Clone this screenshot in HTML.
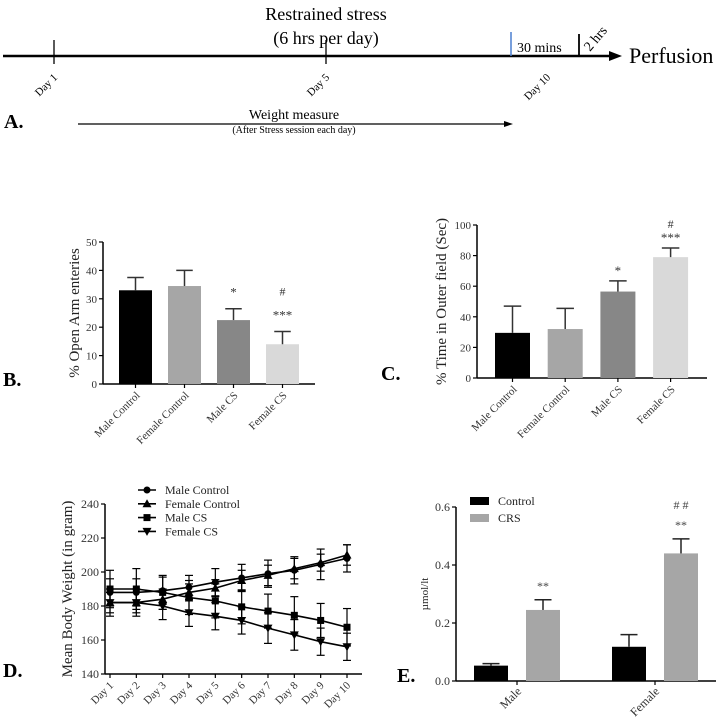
<!DOCTYPE html>
<html><head><meta charset="utf-8"><style>
html,body{margin:0;padding:0;background:#fff;}
svg{display:block;font-family:"Liberation Serif",serif;}
</style></head><body>
<svg id="fig" width="728" height="724" viewBox="0 0 728 724" xmlns="http://www.w3.org/2000/svg">
<g>
  <line x1="3" y1="56" x2="612" y2="56" stroke="#000" stroke-width="2.5"/>
  <polygon points="622,56 609,51 609,61" fill="#000"/>
  <line x1="54" y1="40" x2="54" y2="64" stroke="#000" stroke-width="1.3"/>
  <line x1="326" y1="40" x2="326" y2="64" stroke="#000" stroke-width="1.3"/>
  <line x1="511" y1="32" x2="511" y2="56" stroke="#4a7fd0" stroke-width="1.5"/>
  <line x1="579" y1="34" x2="579" y2="56" stroke="#000" stroke-width="1.8"/>
  <text x="326" y="20" font-size="18" text-anchor="middle">Restrained stress</text>
  <text x="326" y="44" font-size="18" text-anchor="middle">(6 hrs per day)</text>
  <text x="517" y="52" font-size="14">30 mins</text>
  <text transform="translate(590,52) rotate(-50)" font-size="14">2 hrs</text>
  <text x="629" y="63" font-size="22">Perfusion</text>
  <text transform="translate(58,78) rotate(-45)" font-size="11" text-anchor="end">Day 1</text>
  <text transform="translate(330,78) rotate(-45)" font-size="11" text-anchor="end">Day 5</text>
  <text transform="translate(551,78) rotate(-45)" font-size="11" text-anchor="end">Day 10</text>
  <text x="4" y="128" font-size="20" font-weight="bold">A.</text>
  <line x1="78" y1="124" x2="505" y2="124" stroke="#000" stroke-width="1.3"/>
  <polygon points="513,124 504,121 504,127" fill="#000"/>
  <text x="294" y="119" font-size="14" text-anchor="middle">Weight measure</text>
  <text x="294" y="133" font-size="10" text-anchor="middle">(After Stress session each day)</text>
</g>
<g id="pB"></g>
<g id="pC"></g>
<g id="pD"></g>
<g id="pE"></g>
</svg>
<script>
const NS="http://www.w3.org/2000/svg";
// Panel B data
const bCats=["Male Control","Female Control","Male CS","Female CS"];
const bVals=[33,34.5,22.5,14];
const bErr=[4.5,5.5,4,4.5];
const bSig=["","","*","***"];
const bHash=["","","","#"];
const bTicks=[0,10,20,30,40,50];
// Panel C data
const cCats=["Male Control","Female Control","Male CS","Female CS"];
const cVals=[29.5,32,56.5,79];
const cErr=[17.5,13.5,7,6];
const cSig=["","","*","***"];
const cHash=["","","","#"];
const cTicks=[0,20,40,60,80,100];
// Panel D data
const dDays=["Day 1","Day 2","Day 3","Day 4","Day 5","Day 6","Day 7","Day 8","Day 9","Day 10"];
const dMaleCtrl=[188,188,189,191,194,196.5,199,201,204.5,208];
const dFemaleCtrl=[182,182,184,188,190.5,195,198,202,205.5,210];
const dMaleCS=[190,190,188,185,183,179.5,177,174.5,171.5,167.5];
const dFemaleCS=[182,182,180,176,174,171.5,167,163,159,156];
const dErrMC=[8,8,8,7,8,8,8,8,9,8];
const dErrFC=[6,6,6,5,5,6,6,6,5,6];
const dErrMS=[11,12,10,10,10,10,10,11,10,11];
const dErrFS=[8,8,8,8,8,8,9,9,8,8];
const dTicks=[140,160,180,200,220,240];
// Panel E data
const eGroups=["Male","Female"];
const eControl=[0.053,0.118];
const eCRS=[0.245,0.44];
const eErrControl=[0.007,0.042];
const eErrCRS=[0.035,0.05];
const eTicks=[0,0.2,0.4,0.6];

function el(parent,tag,attrs,text){const e=document.createElementNS(NS,tag);for(const k in attrs)e.setAttribute(k,attrs[k]);if(text!==undefined)e.textContent=text;parent.appendChild(e);return e;}
const scale=(d0,d1,r0,r1)=>v=>r0+(v-d0)*(r1-r0)/(d1-d0);

function yAxis(g,x,y,ticks,fmt,fs){
  el(g,'line',{x1:x,y1:y(ticks[0]),x2:x,y2:y(ticks[ticks.length-1]),stroke:'#000','stroke-width':1.5});
  ticks.forEach(t=>{el(g,'line',{x1:x-4,y1:y(t),x2:x,y2:y(t),stroke:'#000','stroke-width':1.2});
    const tx=el(g,'text',{x:x-6,y:y(t)+4,'font-size':fs,'text-anchor':'end',fill:'#333'},fmt(t));
    
    });
}

function barPanel(id,cats,vals,errs,sig,hash,ticks,cfg){
  const g=document.getElementById(id);
  const y=scale(ticks[0],ticks[ticks.length-1],cfg.y0,cfg.y1);
  const fills=['#000','#a6a6a6','#878787','#d9d9d9'];
  yAxis(g,cfg.ax,y,ticks,t=>t,11);
  el(g,'line',{x1:cfg.ax,y1:cfg.y0,x2:cfg.ax2,y2:cfg.y0,stroke:'#000','stroke-width':1.5});
  cats.forEach((c,i)=>{
    const cx=cfg.x0+i*cfg.step, w=cfg.bw;
    const r=el(g,'rect',{x:cx-w/2,y:y(vals[i]),width:w,height:cfg.y0-y(vals[i]),fill:fills[i]});
    
    
    const te=y(vals[i]+errs[i]);
    el(g,'line',{x1:cx,y1:y(vals[i]),x2:cx,y2:te,stroke:'#333','stroke-width':1.5});
    el(g,'line',{x1:cx-w/4,y1:te,x2:cx+w/4,y2:te,stroke:'#333','stroke-width':1.5});
    el(g,'line',{x1:cx,y1:cfg.y0,x2:cx,y2:cfg.y0+4,stroke:'#000','stroke-width':1.2});
    if(sig[i]){const s=el(g,'text',{x:cx,y:te-cfg.sigGap,'font-size':13,'text-anchor':'middle',fill:'#333'},sig[i]);
      }
    if(hash[i]){const s=el(g,'text',{x:cx,y:te-cfg.hashGap,'font-size':12,'text-anchor':'middle',fill:'#333'},hash[i]);
      }
    const l=el(g,'text',{transform:`translate(${cx+5},${cfg.y0+12}) rotate(-45)`,'font-size':11,'text-anchor':'end',fill:'#333'},c);
    
    
  });
  const yl=el(g,'text',{transform:`translate(${cfg.ylx},${(cfg.y0+cfg.y1)/2}) rotate(-90)`,'font-size':cfg.ylfs,'text-anchor':'middle',fill:'#222'},cfg.ylabel);
  
  
  const pl=el(g,'text',{x:cfg.plx,y:cfg.y0+2,'font-size':20,'font-weight':'bold'},cfg.pl);
  
  
}
barPanel('pB',bCats,bVals,bErr,bSig,bHash,bTicks,{y0:384,y1:242,ax:103,ax2:315,x0:135.5,step:49,bw:33,sigGap:12,hashGap:36,ylx:79,ylfs:15,ylabel:'% Open Arm enteries',plx:3,pl:'B.'});
barPanel('pC',cCats,cVals,cErr,cSig,cHash,cTicks,{y0:378,y1:225,ax:477,ax2:707,x0:512.5,step:52.7,bw:35,sigGap:6,hashGap:20,ylx:446,ylfs:15,ylabel:'% Time in Outer field (Sec)',plx:381,pl:'C.'});

// Panel D
(function(){
  const g=document.getElementById('pD');
  const y=scale(140,240,674,504);
  const x=i=>110+i*(347-110)/(dDays.length-1);
  yAxis(g,105,y,dTicks,t=>t,12);
  el(g,'line',{x1:105,y1:674,x2:362,y2:674,stroke:'#000','stroke-width':1.5});
  dDays.forEach((d,i)=>{el(g,'line',{x1:x(i),y1:674,x2:x(i),y2:678,stroke:'#000','stroke-width':1.2});
    const l=el(g,'text',{transform:`translate(${x(i)+4},${686}) rotate(-45)`,'font-size':11,'text-anchor':'end',fill:'#333'},d);
    
    });
  const series=[[dMaleCtrl,dErrMC,'circle','Male Control'],[dFemaleCtrl,dErrFC,'tri','Female Control'],[dMaleCS,dErrMS,'square','Male CS'],[dFemaleCS,dErrFS,'itri','Female CS']];
  function marker(p,t,cx,cy,s){
    if(t==='circle')return el(p,'circle',{cx,cy,r:s,fill:'#000'});
    if(t==='square')return el(p,'rect',{x:cx-s,y:cy-s,width:2*s,height:2*s,fill:'#000'});
    if(t==='tri')return el(p,'polygon',{points:`${cx},${cy-s-1} ${cx-s-1},${cy+s} ${cx+s+1},${cy+s}`,fill:'#000'});
    return el(p,'polygon',{points:`${cx},${cy+s+1} ${cx-s-1},${cy-s} ${cx+s+1},${cy-s}`,fill:'#000'});
  }
  series.forEach((s,k)=>{
    const sg=el(g,'g',{});
    
    
    el(sg,'polyline',{points:s[0].map((v,i)=>x(i)+','+y(v)).join(' '),fill:'none',stroke:'#000','stroke-width':1.6});
    s[0].forEach((v,i)=>{
      el(sg,'line',{x1:x(i),y1:y(v-s[1][i]),x2:x(i),y2:y(v+s[1][i]),stroke:'#000','stroke-width':1.2});
      el(sg,'line',{x1:x(i)-4,y1:y(v-s[1][i]),x2:x(i)+4,y2:y(v-s[1][i]),stroke:'#000','stroke-width':1.2});
      el(sg,'line',{x1:x(i)-4,y1:y(v+s[1][i]),x2:x(i)+4,y2:y(v+s[1][i]),stroke:'#000','stroke-width':1.2});
      const m=marker(sg,s[2],x(i),y(v),3.5);
      
      
    });
    const ly=490+k*13.8;
    const lg=el(g,'g',{});
    
    
    el(lg,'line',{x1:138,y1:ly,x2:156,y2:ly,stroke:'#000','stroke-width':1.6});
    marker(lg,s[2],147,ly,3.5);
    el(lg,'text',{x:165,y:ly+4,'font-size':12,fill:'#222'},s[3]);
  });
  const yl=el(g,'text',{transform:'translate(72,589) rotate(-90)','font-size':15,'text-anchor':'middle',fill:'#222'},'Mean Body Weight (in gram)');
  
  
  const pl=el(g,'text',{x:3,y:677,'font-size':20,'font-weight':'bold'},'D.');
  
  
})();

// Panel E
(function(){
  const g=document.getElementById('pE');
  const y=scale(0,0.6,681,507);
  yAxis(g,456,y,eTicks,t=>t.toFixed(1),12);
  el(g,'line',{x1:456,y1:681,x2:716,y2:681,stroke:'#000','stroke-width':1.5});
  const gx=[517,655];
  eGroups.forEach((gn,i)=>{
    [[eControl,eErrControl,'#000',-26,'control'],[eCRS,eErrCRS,'#a6a6a6',26,'crs']].forEach(s=>{
      const cx=gx[i]+s[3], w=34, v=s[0][i], e=s[1][i];
      const r=el(g,'rect',{x:cx-w/2,y:y(v),width:w,height:681-y(v),fill:s[2]});
      
      
      el(g,'line',{x1:cx,y1:y(v),x2:cx,y2:y(v+e),stroke:'#222','stroke-width':1.5});
      el(g,'line',{x1:cx-w/4,y1:y(v+e),x2:cx+w/4,y2:y(v+e),stroke:'#222','stroke-width':1.5});
      if(s[4]==='crs'){const t=el(g,'text',{x:cx,y:y(v+e)-10,'font-size':12,'text-anchor':'middle',fill:'#444'},'**');
        
        if(i===1){const h=el(g,'text',{x:cx,y:y(v+e)-30,'font-size':12,'text-anchor':'middle',fill:'#444'},'# #');
          }}
    });
    el(g,'line',{x1:gx[i],y1:681,x2:gx[i],y2:685,stroke:'#000','stroke-width':1.2});
    const l=el(g,'text',{transform:`translate(${gx[i]+5},${692}) rotate(-45)`,'font-size':12,'text-anchor':'end',fill:'#333'},gn);
    
    
  });
  [['Control','#000',501],['CRS','#a6a6a6',518]].forEach(L=>{
    const lg=el(g,'g',{});
    
    
    el(lg,'rect',{x:470,y:L[2]-4,width:19,height:8,fill:L[1]});
    el(lg,'text',{x:498,y:L[2]+4,'font-size':12,fill:'#222'},L[0]);
  });
  const yl=el(g,'text',{transform:'translate(428,594) rotate(-90)','font-size':11,'text-anchor':'middle',fill:'#222'},'µmol/lt');
  
  
  const pl=el(g,'text',{x:397,y:682,'font-size':20,'font-weight':'bold'},'E.');
  
  
})();
</script>
</body></html>
